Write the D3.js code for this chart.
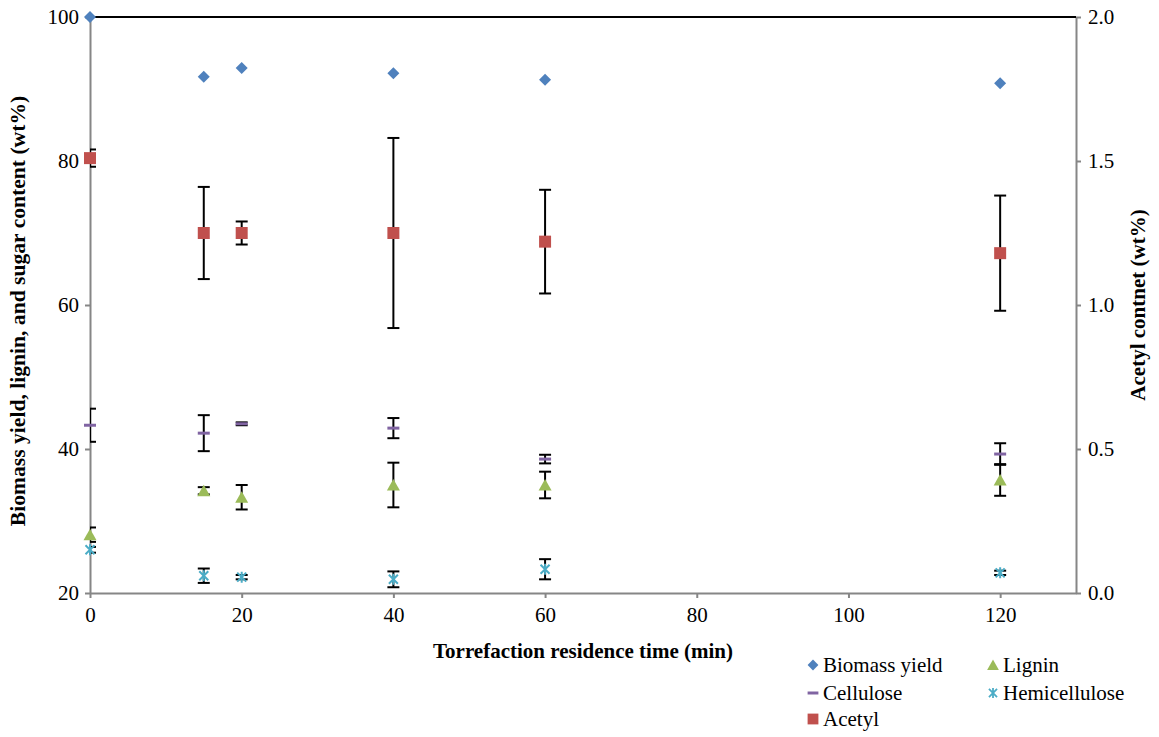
<!DOCTYPE html>
<html>
<head>
<meta charset="utf-8">
<script src="https://cdn.jsdelivr.net/npm/d3@7"></script>
<style>
  body { margin: 0; background: #fff; }
  svg text { font-family: "Liberation Serif", "Times New Roman", serif; fill: #000; }
  .axis path, .axis line { stroke: #868686; stroke-width: 2; }
  .axis text { font-size: 21px; }
  .title { font-size: 21px; font-weight: bold; }
  .legend text { font-size: 21px; }
</style>
</head>
<body>
<svg width="1159" height="737"></svg>
<script>
// residence time (min)
var times = [0, 15, 20, 40, 60, 120];

// left axis series (wt%)
var biomassYield = [100, 91.7, 92.9, 92.2, 91.3, 90.8];
var lignin = [28.1, 34.2, 33.3, 35.0, 35.0, 35.7];
var ligninErr = [1.0, 0.5, 1.7, 3.1, 1.85, 2.2];
var cellulose = [43.3, 42.2, 43.5, 42.9, 38.6, 39.3];
var celluloseErr = [2.3, 2.5, 0.2, 1.4, 0.6, 1.5];
var hemicellulose = [26.0, 22.4, 22.2, 21.9, 23.3, 22.8];
var hemicelluloseErr = [0.4, 1.0, 0.3, 1.1, 1.4, 0.3];

// right axis series (wt%)
var acetyl = [1.51, 1.25, 1.25, 1.25, 1.22, 1.18];
var acetylErr = [0.03, 0.16, 0.04, 0.33, 0.18, 0.2];

var xTicks = [0, 20, 40, 60, 80, 100, 120];
var yLeftTicks = [20, 40, 60, 80, 100];
var yRightTicks = [0, 0.5, 1.0, 1.5, 2.0];

var svg = d3.select('svg');
var plot = {l: 90, r: 1076, t: 17, b: 593};

var x = d3.scaleLinear().domain([0, 130]).range([plot.l, plot.r]);
var yL = d3.scaleLinear().domain([20, 100]).range([plot.b, plot.t]);
var yR = d3.scaleLinear().domain([0, 2]).range([plot.b, plot.t]);

// marker shapes
var shapes = {
    diamond: 'M0,-6L6,0L0,6L-6,0Z',
    square: 'M-6,-6H6V6H-6Z',
    triangle: 'M0,-6L6.5,5.5H-6.5Z',
    dash: 'M-6,-1.5H6V1.5H-6Z',
    star: 'M-4.5,-4.5L4.5,4.5M-4.5,4.5L4.5,-4.5M0,-5.5V5.5'
};

var series = [
    {name: 'Biomass yield', values: biomassYield, err: null, y: yL, shape: 'diamond', color: '#4F81BD'},
    {name: 'Lignin', values: lignin, err: ligninErr, y: yL, shape: 'triangle', color: '#9BBB59'},
    {name: 'Cellulose', values: cellulose, err: celluloseErr, y: yL, shape: 'dash', color: '#8064A2'},
    {name: 'Hemicellulose', values: hemicellulose, err: hemicelluloseErr, y: yL, shape: 'star', color: '#4BACC6'},
    {name: 'Acetyl', values: acetyl, err: acetylErr, y: yR, shape: 'square', color: '#C0504D'}
];

svg.append('defs').append('clipPath').attr('id', 'plotClip')
    .append('rect')
    .attr('x', plot.l).attr('y', plot.t - 5)
    .attr('width', plot.r - plot.l).attr('height', plot.b - plot.t + 10);

// axes
svg.append('g').attr('class', 'axis')
    .attr('transform', 'translate(0,' + plot.b + ')')
    .call(d3.axisBottom(x).tickValues(xTicks).tickSize(5).tickPadding(9).tickSizeOuter(0))
    .selectAll('text').attr('dy', '0.71em');

svg.append('g').attr('class', 'axis')
    .attr('transform', 'translate(' + plot.l + ',0)')
    .call(d3.axisLeft(yL).tickValues(yLeftTicks).tickSize(5).tickPadding(6).tickSizeOuter(0));

svg.append('g').attr('class', 'axis')
    .attr('transform', 'translate(' + plot.r + ',0)')
    .call(d3.axisRight(yR).tickValues(yRightTicks).tickFormat(d3.format('.1f')).tickSize(5).tickPadding(7).tickSizeOuter(0));

// black top border
svg.append('line')
    .attr('x1', plot.l).attr('x2', plot.r)
    .attr('y1', plot.t).attr('y2', plot.t)
    .attr('stroke', '#000').attr('stroke-width', 2);

// axis titles
svg.append('text').attr('class', 'title')
    .attr('x', 583).attr('y', 658)
    .attr('text-anchor', 'middle')
    .text('Torrefaction residence time (min)');

svg.append('text').attr('class', 'title')
    .attr('transform', 'translate(25,311) rotate(-90)')
    .attr('text-anchor', 'middle')
    .style('font-size', '21.6px')
    .text('Biomass yield, lignin, and sugar content (wt%)');

svg.append('text').attr('class', 'title')
    .attr('transform', 'translate(1145,305) rotate(-90)')
    .attr('text-anchor', 'middle')
    .text('Acetyl contnet (wt%)');

// series: error bars then markers
series.forEach(function(s) {
    var pts = times.map(function(t, i) {
        return {t: t, v: s.values[i], e: s.err ? s.err[i] : 0};
    });
    var g = svg.append('g');

    if (s.err) {
        var eb = g.append('g').attr('clip-path', 'url(#plotClip)')
            .attr('stroke', '#000').attr('stroke-width', 2)
            .selectAll('g').data(pts).enter().append('g');
        eb.append('line')
            .attr('x1', function(d) { return x(d.t); })
            .attr('x2', function(d) { return x(d.t); })
            .attr('y1', function(d) { return s.y(d.v + d.e); })
            .attr('y2', function(d) { return s.y(d.v - d.e); });
        [1, -1].forEach(function(sign) {
            eb.append('line')
                .attr('x1', function(d) { return x(d.t) - 6; })
                .attr('x2', function(d) { return x(d.t) + 6; })
                .attr('y1', function(d) { return s.y(d.v + sign * d.e); })
                .attr('y2', function(d) { return s.y(d.v + sign * d.e); });
        });
    }

    g.selectAll('path.mark').data(pts).enter().append('path')
        .attr('class', 'mark')
        .attr('d', shapes[s.shape])
        .attr('transform', function(d) { return 'translate(' + x(d.t) + ',' + s.y(d.v) + ')'; })
        .attr('fill', s.shape === 'star' ? 'none' : s.color)
        .attr('stroke', s.shape === 'star' ? s.color : 'none')
        .attr('stroke-width', 2);
});

// legend
var legendPos = [
    {x: 813, y: 665}, {x: 993, y: 665},
    {x: 813, y: 693}, {x: 993, y: 693},
    {x: 813, y: 719}
];
var legend = svg.append('g').attr('class', 'legend');
series.forEach(function(s, i) {
    var p = legendPos[i];
    var item = legend.append('g').attr('transform', 'translate(' + p.x + ',' + p.y + ')');
    item.append('path')
        .attr('d', shapes[s.shape])
        .attr('transform', s.shape === 'dash' ? 'scale(0.9,1)' : 'scale(0.9)')
        .attr('fill', s.shape === 'star' ? 'none' : s.color)
        .attr('stroke', s.shape === 'star' ? s.color : 'none')
        .attr('stroke-width', 2);
    item.append('text').attr('x', 10).attr('y', 7).text(s.name);
});
</script>
</body>
</html>
